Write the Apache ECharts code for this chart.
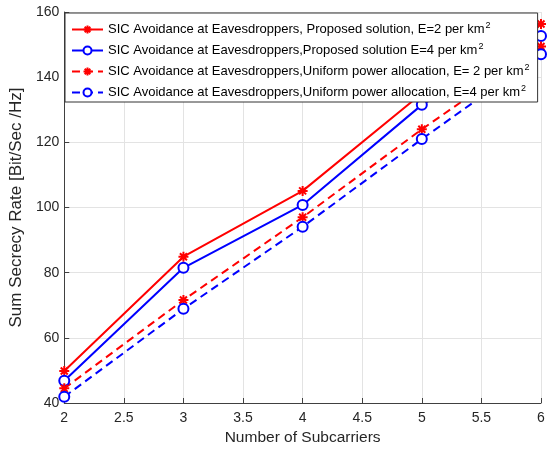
<!DOCTYPE html>
<html>
<head>
<meta charset="utf-8">
<script src="https://cdn.jsdelivr.net/npm/echarts@6/dist/echarts.min.js"></script>
<style>
  html, body { margin: 0; padding: 0; background: #fff; }
  #chart { width: 550px; height: 451px; }
</style>
</head>
<body>
<div id="chart"></div>
<script>
const subcarriers = [2, 3, 4, 5, 6]
const propE2 = [49.8, 84.9, 105.1, 135, 156.3]
const propE4 = [46.8, 81.5, 100.8, 131.5, 152.6]
const uniE2 = [44.5, 71.6, 97, 124, 149.4]
const uniE4 = [41.9, 68.9, 94.1, 121, 147]
const seriesNames = [
  'SIC Avoidance at Eavesdroppers, Proposed solution, E=2 per km',
  'SIC Avoidance at Eavesdroppers,Proposed solution E=4 per km',
  'SIC Avoidance at Eavesdroppers,Uniform power allocation, E= 2 per km',
  'SIC Avoidance at Eavesdroppers,Uniform power allocation, E=4 per km'
]

const star = 'path://M0,-10L0,10M-10,0L10,0M-7,-7L7,7M-7,7L7,-7'
const font = 'Liberation Sans, Arial, sans-serif'

const makeSeries = (name, values, color, dashed, symbol) => ({
  name,
  type: 'line',
  data: subcarriers.map((x, i) => [x, values[i]]),
  symbol,
  symbolSize: 10,
  showAllSymbol: true,
  lineStyle: { color, width: 2, type: dashed ? [8, 5] : 'solid' },
  itemStyle: { color: symbol === star ? color : '#fff', borderColor: color, borderWidth: 2 },
  emphasis: { disabled: true },
  animation: false
})

const chart = echarts.init(document.getElementById('chart'))
chart.setOption({
  backgroundColor: '#fff',
  textStyle: { fontFamily: font },
  grid: { left: 64, right: 9, top: 12, bottom: 48 },
  legend: {
    orient: 'vertical',
    left: 65,
    top: 13,
    width: 463,
    padding: [8, 8, 3, 6],
    itemGap: 6,
    itemWidth: 31,
    itemHeight: 10,
    backgroundColor: '#fff',
    borderColor: '#333',
    borderWidth: 1,
    borderRadius: 0,
    selectedMode: false,
    data: seriesNames,
    formatter: name => '{t|' + name + '}{s|2}',
    textStyle: {
      color: '#000',
      fontFamily: font,
      rich: {
        t: { fontSize: 13, fontFamily: font, color: '#000' },
        s: { fontSize: 9, fontFamily: font, color: '#000', padding: [0, 0, 8, 1] }
      }
    }
  },
  xAxis: {
    type: 'value',
    min: 2,
    max: 6,
    interval: 0.5,
    name: 'Number of Subcarriers',
    nameLocation: 'middle',
    nameGap: 27,
    nameTextStyle: { fontSize: 15.5, color: '#262626', fontFamily: font },
    axisLine: { onZero: false, lineStyle: { color: '#404040', width: 1 } },
    axisTick: { inside: true, length: 5, lineStyle: { color: '#404040' } },
    axisLabel: { fontSize: 14, color: '#262626', margin: 8, fontFamily: font },
    splitLine: { show: true, lineStyle: { color: '#e3e3e3', width: 1 } }
  },
  yAxis: {
    type: 'value',
    min: 40,
    max: 160,
    interval: 20,
    name: 'Sum Secrecy Rate [Bit/Sec /Hz]',
    nameLocation: 'middle',
    nameGap: 30,
    nameTextStyle: { fontSize: 17, color: '#262626', fontFamily: font },
    axisLine: { show: true, onZero: false, lineStyle: { color: '#404040', width: 1 } },
    axisTick: { show: true, inside: true, length: 5, lineStyle: { color: '#404040' } },
    axisLabel: { fontSize: 14, color: '#262626', margin: 5, fontFamily: font },
    splitLine: { show: true, lineStyle: { color: '#e3e3e3', width: 1 } }
  },
  series: [
    makeSeries(seriesNames[0], propE2, '#ff0000', false, star),
    makeSeries(seriesNames[1], propE4, '#0000ff', false, 'circle'),
    makeSeries(seriesNames[2], uniE2, '#ff0000', true, star),
    makeSeries(seriesNames[3], uniE4, '#0000ff', true, 'circle')
  ]
})
</script>
</body>
</html>
